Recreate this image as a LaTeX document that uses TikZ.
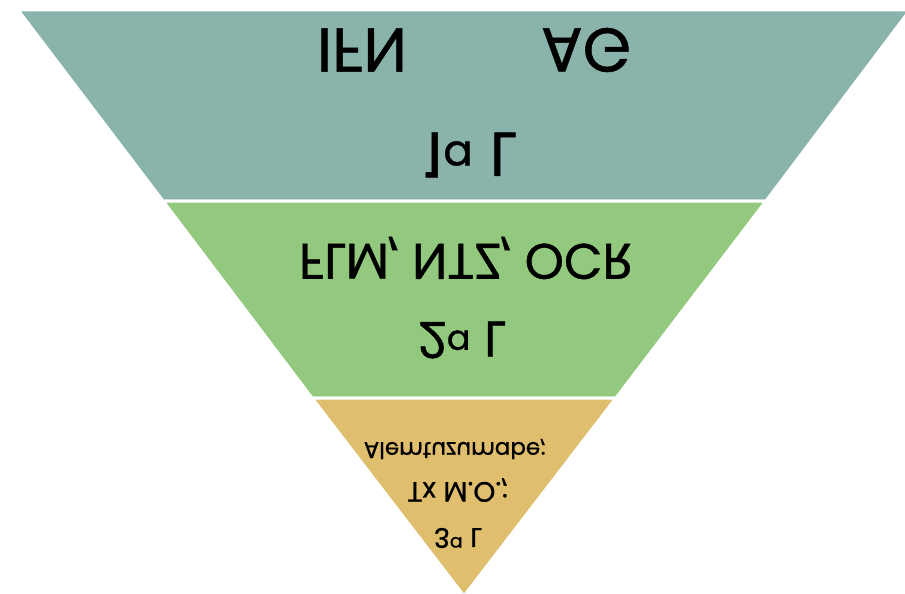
\documentclass[tikz,border=0pt]{standalone}
\usepackage{fontspec}
\usepackage{graphicx}
\setmainfont{Poppins}[FakeBold=0.8]
\definecolor{tierone}{RGB}{138,180,171}
\definecolor{tiertwo}{RGB}{146,201,126}
\definecolor{tierthree}{RGB}{223,190,110}
\newcommand{\upsidedown}[1]{\scalebox{1}[-1]{#1}}
\tikzset{
  tier/.style={draw=white, line width=3pt, line join=miter},
  lbl/.style={inner sep=0pt, text=black, anchor=center}
}
\begin{document}
\begin{tikzpicture}[x=1pt,y=-1pt]
  \clip (0,0) rectangle (905,594);
  \fill[white] (0,0) rectangle (905,594);
  % inverted pyramid, three tiers
  \filldraw[tier, fill=tierone]   (18,10) -- (910,10) -- (766,201) -- (163,201) -- cycle;
  \filldraw[tier, fill=tiertwo]   (163,201) -- (766,201) -- (616,398) -- (312,398) -- cycle;
  \filldraw[tier, fill=tierthree] (312,398) -- (616,398) -- (464,596) -- cycle;
  % tier labels
  \node[lbl, font=\fontsize{62}{62}\selectfont] (ifn) at (362,50) {\upsidedown{IFN}};
  \node[lbl, font=\fontsize{62}{62}\selectfont] (ag)  at (586,50) {\upsidedown{AG}};
  \node[lbl, font=\fontsize{62}{62}\selectfont] (l1)  at (470,155) {\upsidedown{1\textsuperscript{a} L}};
  \node[lbl, font=\fontsize{50}{50}\selectfont] (drugs2) at (466,258) {\upsidedown{FLM, NTZ, OCR}};
  \node[lbl, font=\fontsize{50}{50}\selectfont] (l2)  at (462,340) {\upsidedown{2\textsuperscript{a} L}};
  \node[lbl, font=\fontsize{23}{23}\selectfont] (alem) at (455,449) {\upsidedown{Alemtuzumabe;}};
  \node[lbl, font=\fontsize{28}{28}\selectfont] (tmo)  at (458,490) {\upsidedown{Tx M.O.;}};
  \node[lbl, font=\fontsize{27}{27}\selectfont] (l3)   at (458,538) {\upsidedown{3\textsuperscript{a} L}};
\end{tikzpicture}
\end{document}
